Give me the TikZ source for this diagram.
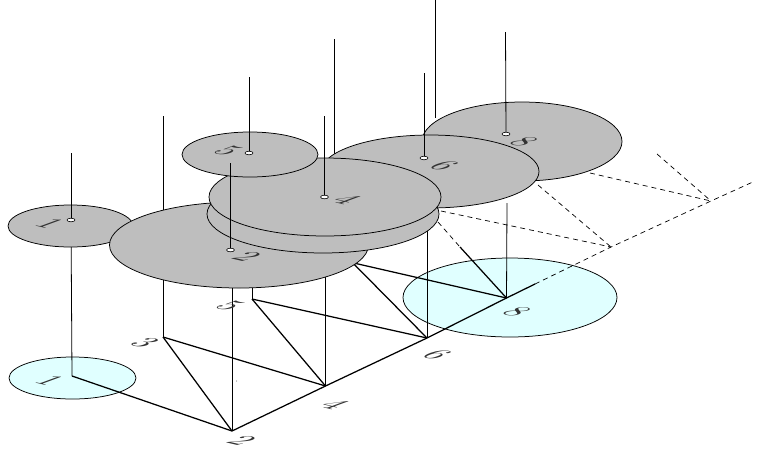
\documentclass[tikz,border=0pt]{standalone}
\definecolor{discgray}{HTML}{BEBEBE}
\definecolor{basecyan}{HTML}{E0FFFF}
\tikzset{
  digit/.style={transform shape,cm={3.0,-0.7,3.0,1.1,(0,0)},inner sep=0pt,text=black!80,font=\fontsize{10}{12}\selectfont},
  disc/.style={draw=black,fill=discgray,line width=0.75pt},
  basedisc/.style={draw=black,fill=basecyan,line width=0.75pt},
  pole/.style={draw=black,line width=0.8pt},
  edgeline/.style={draw=black,line width=1.25pt},
  ghost/.style={draw=black,line width=0.7pt,dash pattern=on 5pt off 4pt},
  hole/.style={draw=black,fill=white,line width=0.6pt}
}
\begin{document}
\begin{tikzpicture}[x=1pt,y=-1pt]
\useasboundingbox (0,0) rectangle (759,453);
% base plane points
\coordinate (g1) at (72,376);
\coordinate (g2) at (232,431);
\coordinate (g3) at (163,337);
\coordinate (g4) at (325.5,386);
\coordinate (g5) at (252,299);
\coordinate (g6) at (427,338);
\coordinate (g8) at (506.5,298);
\coordinate (gs) at (535,284);
\coordinate (g9) at (611,247);
\coordinate (g10) at (711,201);
\coordinate (g11) at (755,181);
\coordinate (h1) at (345,261);
\coordinate (h2) at (345,255);
\coordinate (h3) at (460,247);
\coordinate (h4) at (438,222);
\coordinate (d1) at (441,211);
\coordinate (d2) at (538,185);
\coordinate (d3) at (590,173);
\coordinate (d4) at (657,154);
% base discs
\path[basedisc] (72.5,378) ellipse [x radius=63.5pt,y radius=21pt];
\path[basedisc] (510,297.5) ellipse [x radius=107pt,y radius=39.5pt];
% pole tops and feet
\coordinate (t1) at (71,153);
\coordinate (t3) at (163,116);
\coordinate (t5) at (249,77);
\coordinate (t2) at (230.5,163);
\coordinate (t4) at (324.5,116);
\coordinate (t6) at (424,73);
\coordinate (t8) at (505.5,32);
\coordinate (u1) at (334.5,39);
\coordinate (u2) at (435,3);
\coordinate (u3) at (435,0);
\coordinate (u4) at (435,118);
\coordinate (u5) at (334.5,160);
\coordinate (c1) at (71,220);
\coordinate (c2) at (230.5,250);
\coordinate (c4) at (324.5,197);
\coordinate (c5) at (249,153);
\coordinate (c6) at (424,158);
\coordinate (c8) at (506,134);
\coordinate (f2) at (232,240);
\coordinate (f4) at (325.5,240);
\coordinate (f5) at (252,240);
\coordinate (f6) at (427,230);
\coordinate (f8) at (507,203);
% ground connectors
\draw[edgeline] (g1) -- (g2) -- (g4) -- (g6) -- (g8) -- (gs);
\draw[edgeline] (g3) -- (g2);
\draw[edgeline] (g3) -- (g4);
\draw[edgeline] (g5) -- (g4);
\draw[edgeline] (g5) -- (g6);
\draw[edgeline] (h1) -- (g8);
\draw[edgeline] (h2) -- (g6);
\draw[edgeline] (h3) -- (g8);
\draw[ghost] (gs) -- (g9) -- (g10) -- (g11);
\draw[ghost] (d1) -- (g9);
\draw[ghost] (d2) -- (g9);
\draw[ghost] (d3) -- (g10);
\draw[ghost] (d4) -- (g10);
\draw[ghost] (h4) -- (h3);
% verticals below discs
\draw[pole] (c1) -- (g1);
\draw[pole] (t3) -- (g3);
\draw[pole] (f2) -- (g2);
\draw[pole] (f4) -- (g4);
\draw[pole] (f5) -- (g5);
\draw[pole] (f6) -- (g6);
\draw[pole] (f8) -- (g8);
\draw[pole] (u1) -- (u5);
\draw[pole] (u2) -- (u4);
\draw[pole,densely dashed] (u3) -- (u2);
% discs
\path[disc] (70.5,226) ellipse [x radius=62.5pt,y radius=21pt];
\path[disc] (239,245) ellipse [x radius=129.5pt,y radius=43pt];
\path[disc] (522,141.5) ellipse [x radius=100pt,y radius=39.5pt];
\path[disc] (430,171.5) ellipse [x radius=109pt,y radius=36.5pt];
\path[disc] (323,214) ellipse [x radius=116pt,y radius=39pt];
\path[disc] (325,197) ellipse [x radius=116pt,y radius=39pt];
\path[disc] (250,154.5) ellipse [x radius=68pt,y radius=22.5pt];
% upper poles
\draw[pole] (t1) -- (c1);
\draw[pole] (t5) -- (c5);
\draw[pole] (t2) -- (c2);
\draw[pole] (t4) -- (c4);
\draw[pole] (t6) -- (c6);
\draw[pole] (t8) -- (c8);
\path[hole] (c1) ellipse [x radius=4pt,y radius=1.8pt];
\path[hole] (c2) ellipse [x radius=4pt,y radius=1.8pt];
\path[hole] (c4) ellipse [x radius=4pt,y radius=1.8pt];
\path[hole] (c5) ellipse [x radius=4pt,y radius=1.8pt];
\path[hole] (c6) ellipse [x radius=4pt,y radius=1.8pt];
\path[hole] (c8) ellipse [x radius=4pt,y radius=1.8pt];
\fill[black!70] (236.7,381) circle [radius=0.5pt];
% labels
\node[digit] (b1) at (50,381) {1};
\node[digit] (b2) at (242,441) {2};
\node[digit] (b3) at (145,343) {3};
\node[digit] (b5) at (230,306) {5};
\node[digit] (b4) at (335,405) {4};
\node[digit] (b6) at (437,355) {6};
\node[digit] (b8) at (517,312) {8};
\node[digit] (a1) at (50,224) {1};
\node[digit] (a2) at (247,257) {2};
\node[digit] (a5) at (228,151) {5};
\node[digit] (a4) at (347,200) {4};
\node[digit] (a6) at (444,166) {6};
\node[digit] (a8) at (524,142) {8};
\end{tikzpicture}
\end{document}
